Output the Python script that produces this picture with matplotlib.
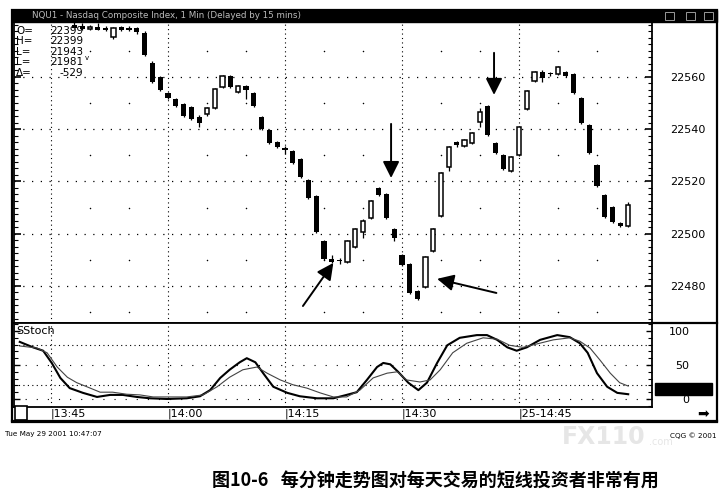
import matplotlib.pyplot as plt
import matplotlib.patches as patches
import numpy as np
from matplotlib.ticker import MultipleLocator, FixedLocator

plt.rcParams['font.family'] = ['DejaVu Sans']

##################################
# Data
##################################
# 1-min bars, minutes after 14:00
minutes = list(range(-12, 60))
opens = [22580.0, 22579.5, 22578.3, 22579.2, 22578.8, 22575.3, 22579.1, 22578.8, 22578.8, 22576.8,
         22565.4, 22560.0, 22553.9, 22551.6, 22549.7, 22548.5, 22544.7, 22545.8, 22548.1, 22556.2,
         22560.4, 22554.3, 22556.6, 22553.9, 22544.7, 22539.7, 22535.1, 22532.5, 22531.7, 22528.6,
         22520.6, 22514.4, 22497.2, 22490.3, 22489.8, 22489.2, 22494.9, 22500.7, 22506.0, 22517.5,
         22515.2, 22501.8, 22491.9, 22488.4, 22478.1, 22479.6, 22493.4, 22506.8, 22525.6, 22535.1,
         22533.6, 22534.7, 22542.8, 22548.9, 22534.7, 22530.1, 22524.0, 22530.1, 22547.8, 22558.5,
         22561.9, 22561.5, 22561.1, 22561.9, 22561.1, 22552.0, 22541.6, 22526.3, 22514.8, 22510.2,
         22504.1, 22503.0]
highs = [22581.0, 22580.5, 22580.0, 22580.5, 22579.5, 22579.0, 22579.5, 22579.3, 22579.2, 22577.5,
         22566.0, 22560.4, 22554.2, 22552.0, 22550.0, 22548.9, 22545.5, 22548.5, 22555.8, 22560.8,
         22560.8, 22557.0, 22557.0, 22554.2, 22545.0, 22540.0, 22535.4, 22533.5, 22532.0, 22529.0,
         22521.0, 22514.8, 22497.6, 22492.0, 22490.7, 22497.6, 22502.2, 22505.5, 22512.9, 22517.9,
         22515.6, 22502.2, 22492.3, 22488.8, 22478.5, 22491.5, 22502.2, 22523.7, 22533.6, 22535.5,
         22536.3, 22539.0, 22548.0, 22549.3, 22535.1, 22530.5, 22529.8, 22541.3, 22555.0, 22562.3,
         22562.5, 22562.0, 22564.2, 22562.3, 22561.5, 22552.4, 22542.0, 22526.7, 22515.2, 22510.6,
         22504.5, 22512.0]
lows = [22578.6, 22578.0, 22578.0, 22577.8, 22577.6, 22574.5, 22577.6, 22577.5, 22576.5, 22568.0,
        22557.8, 22554.6, 22551.6, 22548.5, 22544.8, 22543.5, 22540.9, 22545.0, 22547.8, 22555.8,
        22555.8, 22554.0, 22551.5, 22548.5, 22539.8, 22534.3, 22532.8, 22530.5, 22526.8, 22521.3,
        22513.3, 22500.3, 22490.0, 22488.6, 22488.5, 22488.8, 22494.5, 22498.4, 22505.6, 22514.4,
        22505.6, 22497.0, 22487.6, 22476.9, 22474.6, 22479.2, 22493.0, 22506.4, 22524.0, 22533.0,
        22533.2, 22534.3, 22541.0, 22537.4, 22530.5, 22524.4, 22523.6, 22529.7, 22547.4, 22558.1,
        22558.0, 22560.5, 22560.7, 22560.0, 22553.5, 22542.0, 22530.5, 22517.9, 22506.0, 22504.1,
        22502.6, 22502.6]
closes = [22578.8, 22578.3, 22579.2, 22578.0, 22578.0, 22578.8, 22578.0, 22578.0, 22577.2, 22568.4,
          22558.1, 22555.0, 22552.0, 22548.9, 22545.1, 22543.9, 22542.4, 22548.1, 22555.4, 22560.4,
          22556.2, 22556.6, 22555.0, 22548.9, 22540.1, 22534.7, 22533.2, 22532.2, 22527.1, 22521.7,
          22513.7, 22500.7, 22490.3, 22489.0, 22489.4, 22497.2, 22501.8, 22504.9, 22512.5, 22514.8,
          22506.0, 22498.4, 22488.0, 22477.3, 22475.0, 22491.1, 22501.8, 22523.3, 22533.2, 22534.0,
          22535.9, 22538.6, 22546.6, 22537.8, 22530.9, 22524.8, 22529.4, 22540.9, 22554.6, 22561.9,
          22559.5, 22561.0, 22563.8, 22560.4, 22553.9, 22542.4, 22530.9, 22518.3, 22506.4, 22504.5,
          22503.0, 22511.0]

# slow stochastic, two lines (minutes after 14:00, value)
stoch_k_t = [-19.0, -17.3, -16.0, -14.9, -13.8, -12.6, -10.9, -9.1, -7.4, -5.8, -4.0, -2.3, -0.1, 2.4,
             4.1, 5.4, 6.7, 7.9, 9.2, 10.1, 11.2, 12.2, 13.5, 15.3, 16.9, 19.1, 21.2, 22.9, 24.2, 25.5,
             26.8, 27.6, 28.5, 29.5, 30.8, 32.1, 33.2, 34.5, 35.8, 37.4, 39.6, 40.9, 42.2, 43.5, 44.7,
             46.0, 47.7, 49.9, 51.5, 52.8, 53.8, 55.0, 56.3, 57.6, 59.0]
stoch_k = [84, 76, 71, 53, 31, 16, 9, 3, 6, 6, 3, 1, 0, 1,
           4, 13, 31, 43, 54, 60, 54, 38, 18, 9, 4, 1, 1, 6, 10, 28,
           47, 53, 51, 40, 24, 13, 24, 53, 79, 90, 94, 94, 87, 76, 71,
           76, 87, 94, 91, 82, 68, 38, 18, 9, 7]
stoch_d_t = [-19.0, -16.8, -15.5, -14.2, -12.9, -11.7, -10.4, -8.7, -7.1, -5.3, -3.6, -1.9, -0.1, 2.4,
             4.5, 6.3, 7.9, 9.6, 11.4, 12.7, 14.4, 16.0, 17.8, 19.5, 21.2, 22.9, 24.6, 26.3, 28.1,
             29.4, 30.6, 32.3, 33.6, 34.9, 36.5, 38.3, 40.4, 42.2, 43.8, 45.5, 47.3, 49.4, 51.5, 52.8,
             54.1, 55.4, 56.7, 57.9, 59.0]
stoch_d = [78, 75, 68, 47, 32, 24, 18, 10, 10, 7, 6, 3, 3, 3,
           6, 18, 32, 43, 47, 38, 28, 21, 16, 9, 3, 3, 13, 31, 38,
           40, 28, 25, 28, 43, 68, 82, 90, 88, 79, 76, 81, 87, 90, 85,
           75, 57, 38, 24, 19]

price_ticks = [22480, 22500, 22520, 22540, 22560]
time_ticks = [-15, 0, 15, 30, 45]
time_labels = ['|13:45', '|14:00', '|14:15', '|14:30', '|25-14:45']
stoch_ticks = [0, 50, 100]

info_keys = ['O=', 'H=', 'L=', 'L=', 'Δ=']
info_vals = ['22399', '22399', '21943', '21981', '-529']

# arrows: (tail minute, tail price, tip minute, tip price)
arrows = [(41.8, 22569.2, 41.8, 22553.1),
          (28.6, 22542.0, 28.6, 22521.3),
          (17.3, 22472.3, 21.2, 22488.8),
          (42.1, 22477.3, 34.5, 22482.7)]

caption = '图10-6   每分钟走势图对每天交易的短线投资者非常有用'


def fx(x):
    return x / 723.0


def fy(y):
    return 1 - y / 500.0


fig = plt.figure(figsize=(7.23, 5), dpi=100)
ax = fig.add_axes([fx(14), fy(323), (652 - 14) / 723, (323 - 22) / 500])
ax2 = fig.add_axes([fx(14), fy(407), (652 - 14) / 723, (407 - 323) / 500], sharex=ax)

xlo, xhi = -19.74, 62.05
ax.set_xlim(xlo, xhi)
ax.set_ylim(22465.8, 22581.0)
ax2.set_ylim(-11.8, 111.8)

##################################
# candles
##################################
t = np.asarray(minutes)
o, h, l, c = map(np.asarray, (opens, highs, lows, closes))
up = c > o
ax.vlines(t, l, h, color='black', lw=0.9, zorder=3)
lo_body = np.minimum(o, c)
hb = np.maximum(np.abs(c - o), 0.45)
ax.bar(t[~up], hb[~up], bottom=lo_body[~up], width=0.68, color='black', zorder=4)
ax.bar(t[up], hb[up], bottom=lo_body[up], width=0.55, facecolor='white',
       edgecolor='black', lw=1.1, zorder=4)

for tx, ty, hx, hy in arrows:
    ax.annotate('', xy=(hx, hy), xytext=(tx, ty),
                arrowprops=dict(arrowstyle='-|>,head_length=1.0,head_width=0.5',
                                color='black', lw=1.4, shrinkA=0, shrinkB=0), zorder=6)

##################################
# stochastic
##################################
ax2.plot(stoch_k_t, stoch_k, color='black', lw=1.5)
ax2.plot(stoch_d_t, stoch_d, color='#444444', lw=0.8)

##################################
# grids / ticks
##################################
for a in (ax, ax2):
    a.set_facecolor('white')
    for s in a.spines.values():
        s.set_linewidth(1.3)
    a.xaxis.set_major_locator(FixedLocator(time_ticks))
    a.xaxis.set_minor_locator(MultipleLocator(5))
    a.grid(axis='x', which='major', color='black', ls=(0, (1, 3)), lw=0.8)

ax.yaxis.set_major_locator(FixedLocator(price_ticks))
ax.yaxis.set_minor_locator(MultipleLocator(2.5))
ax.grid(axis='y', which='major', color='black', ls=(0, (1, 6)), lw=0.9)
ax.tick_params(axis='x', which='both', length=0, labelbottom=False)
ax.tick_params(axis='y', which='both', left=True, right=True, direction='in',
               labelleft=False, labelright=True, labelsize=8, pad=13)
ax.tick_params(axis='y', which='major', length=5, width=1.2)
ax.tick_params(axis='y', which='minor', length=3, width=0.8)

# sparse dots of the 5-min / 10-pt grid
mx = [v for v in np.arange(-15, xhi, 5) if v % 15 != 0 and v > xlo]
my = np.arange(22470, 22581, 20)
gx, gy = np.meshgrid(mx, my)
ax.scatter(gx.ravel(), gy.ravel(), s=1.2, color='black', lw=0, zorder=1)

ax2.yaxis.set_major_locator(FixedLocator(stoch_ticks))
ax2.yaxis.set_minor_locator(MultipleLocator(10))
for lev, ls in [(80, (0, (1, 3))), (20, (0, (1, 3))), (50, (0, (1, 9))), (0, (0, (1, 9)))]:
    ax2.axhline(lev, color='black', ls=ls, lw=0.8, zorder=0)
ax2.tick_params(axis='y', which='both', left=True, right=True, direction='in',
                labelleft=False, labelright=True, labelsize=8, pad=27)
ax2.tick_params(axis='y', which='major', length=4, width=1.0)
ax2.tick_params(axis='y', which='minor', length=3, width=0.8)
for lab in ax2.get_yticklabels():
    lab.set_horizontalalignment('right')
ax2.set_xticks(time_ticks)
ax2.set_xticklabels(time_labels)
ax2.tick_params(axis='x', which='both', length=0, labelsize=8, pad=1)
for lab in ax2.get_xticklabels():
    lab.set_horizontalalignment('left')
ax2.text(0.003, 0.96, 'SStoch', transform=ax2.transAxes, fontsize=8, va='top')

##################################
# window decoration
##################################
fig.patches.append(patches.Rectangle((fx(12), fy(422)), (717 - 12) / 723, (422 - 10) / 500,
                                     transform=fig.transFigure, fill=False, lw=1.6, ec='black'))
fig.patches.append(patches.Rectangle((fx(12), fy(22)), (717 - 12) / 723, 12 / 500,
                                     transform=fig.transFigure, fc='black', ec='black'))
for bx in (665, 686, 704):
    fig.patches.append(patches.Rectangle((fx(bx), fy(20)), 9 / 723, 8 / 500,
                                         transform=fig.transFigure, fill=False, ec='#999999', lw=0.7))
fig.text(fx(32), fy(16), 'NQU1 - Nasdaq Composite Index, 1 Min (Delayed by 15 mins)',
         color='#bbbbbb', fontsize=6.3, va='center')
fig.lines.append(plt.Line2D([fx(652), fx(717)], [fy(323), fy(323)], transform=fig.transFigure,
                            color='black', lw=1.6))
fig.lines.append(plt.Line2D([fx(12), fx(717)], [fy(421), fy(421)], transform=fig.transFigure,
                            color='black', lw=1.6))
fig.patches.append(patches.Rectangle((fx(655), fy(395)), 57 / 723, 12 / 500,
                                     transform=fig.transFigure, fc='black', ec='black'))
fig.patches.append(patches.Rectangle((fx(15), fy(420)), 12 / 723, 14 / 500,
                                     transform=fig.transFigure, fc='white', ec='black', lw=1.2))
fig.text(fx(703), fy(414), '➡', fontsize=10, ha='center', va='center')

for i, (k, v) in enumerate(zip(info_keys, info_vals)):
    yy = fy(31 + 10.4 * i)
    fig.text(fx(16), yy, k, fontsize=7.5, va='center')
    fig.text(fx(83), yy, v, fontsize=7.5, va='center', ha='right')
fig.text(fx(85), fy(58), 'v', fontsize=5, va='center')

# faint watermark of the scan
fig.text(fx(562), fy(437), 'FX110', fontsize=17, fontweight='bold', color='#e6e6e6',
         va='center', zorder=0)
fig.text(fx(649), fy(442), '.com', fontsize=7, color='#e6e6e6', va='center', zorder=0)
fig.text(fx(5), fy(434), 'Tue May 29 2001 10:47:07', fontsize=5.2, va='center')
fig.text(fx(717), fy(436), 'CQG © 2001', fontsize=5.2, va='center', ha='right')

fig.text(fx(435), fy(481), caption, fontsize=13, fontweight='bold', ha='center', va='center',
         family=['Noto Sans CJK SC', 'DejaVu Sans'])

fig.savefig('out.png', dpi=100)
